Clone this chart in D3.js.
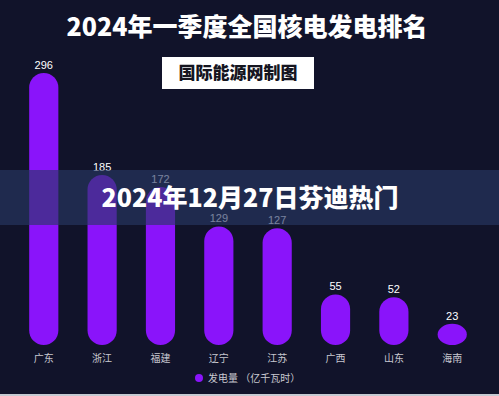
<!DOCTYPE html>
<html>
<head>
<meta charset="utf-8">
<script src="https://cdn.jsdelivr.net/npm/d3@7"></script>
<style>
  html, body { margin: 0; padding: 0; background: #11132a; }
  svg { display: block; }
</style>
</head>
<body>
<div id="chart"></div>
<script>
// 数据：2024年一季度各省核电发电量（亿千瓦时）
const provinces = ["广东", "浙江", "福建", "辽宁", "江苏", "广西", "山东", "海南"];
const generation = [296, 185, 172, 129, 127, 55, 52, 23];
const seriesName = "发电量 （亿千瓦时）";
const titleText = "2024年一季度全国核电发电排名";
const sourceText = "国际能源网制图";
const bannerText = "2024年12月27日芬迪热门";

const width = 499;
const height = 396;
const cjk = "'Noto Sans CJK SC', 'Noto Sans', sans-serif";

const svg = d3.select("#chart").append("svg")
    .attr("width", width)
    .attr("height", height);

svg.append("rect")
    .attr("width", width)
    .attr("height", height)
    .attr("fill", "#11132a");

// 标题
svg.append("text")
    .attr("x", 247)
    .attr("y", 36)
    .attr("text-anchor", "middle")
    .attr("fill", "#ffffff")
    .attr("font-family", cjk)
    .attr("font-weight", 900)
    .attr("font-size", 25)
    .text(titleText);

// 来源框
svg.append("rect")
    .attr("x", 162)
    .attr("y", 57)
    .attr("width", 152)
    .attr("height", 32)
    .attr("fill", "#ffffff");

svg.append("text")
    .attr("x", 238)
    .attr("y", 79)
    .attr("text-anchor", "middle")
    .attr("fill", "#15151f")
    .attr("font-family", cjk)
    .attr("font-weight", 900)
    .attr("font-size", 17)
    .text(sourceText);

const x = d3.scaleBand()
    .domain(provinces)
    .range([0, 496])
    .padding(0.5);

const y = d3.scaleLinear()
    .domain([0, 296])
    .range([345, 73]);

const data = provinces.map((p, i) => ({ name: p, value: generation[i] }));

// 柱子（圆角）
svg.selectAll("rect.bar")
    .data(data)
    .enter().append("rect")
    .attr("class", "bar")
    .attr("x", d => x(d.name))
    .attr("y", d => y(d.value))
    .attr("width", x.bandwidth())
    .attr("height", d => y(0) - y(d.value))
    .attr("rx", x.bandwidth() / 2)
    .attr("fill", "#8a14fa");

// 数值标签
svg.selectAll("text.val")
    .data(data)
    .enter().append("text")
    .attr("class", "val")
    .attr("x", d => x(d.name) + x.bandwidth() / 2)
    .attr("y", d => y(d.value) - 4)
    .attr("text-anchor", "middle")
    .attr("fill", "#ffffff")
    .attr("font-family", "'Liberation Sans', Arial, sans-serif")
    .attr("font-size", 11)
    .text(d => d.value);

// 类别轴
const xAxis = svg.append("g")
    .attr("transform", "translate(0,345)")
    .call(d3.axisBottom(x).tickSize(0).tickPadding(10));
xAxis.select(".domain").remove();
xAxis.selectAll("text")
    .attr("fill", "#c8c8d0")
    .attr("font-family", cjk)
    .attr("font-size", 10);

// 图例
svg.append("circle")
    .attr("cx", 199)
    .attr("cy", 378)
    .attr("r", 4)
    .attr("fill", "#8a14fa");

svg.append("text")
    .attr("x", 208)
    .attr("y", 382)
    .attr("fill", "#c8c8d0")
    .attr("font-family", cjk)
    .attr("font-size", 10)
    .text(seriesName);

// 半透明横幅
svg.append("rect")
    .attr("x", 0)
    .attr("y", 170)
    .attr("width", width)
    .attr("height", 55)
    .attr("fill", "rgb(40,55,100)")
    .attr("fill-opacity", 0.63);

svg.append("text")
    .attr("x", 250)
    .attr("y", 207)
    .attr("text-anchor", "middle")
    .attr("fill", "#ffffff")
    .attr("font-family", cjk)
    .attr("font-weight", 900)
    .attr("font-size", 25)
    .text(bannerText);

// 底边
svg.append("rect")
    .attr("x", 0)
    .attr("y", 394)
    .attr("width", width)
    .attr("height", 2)
    .attr("fill", "#c6cad2");
</script>
</body>
</html>
